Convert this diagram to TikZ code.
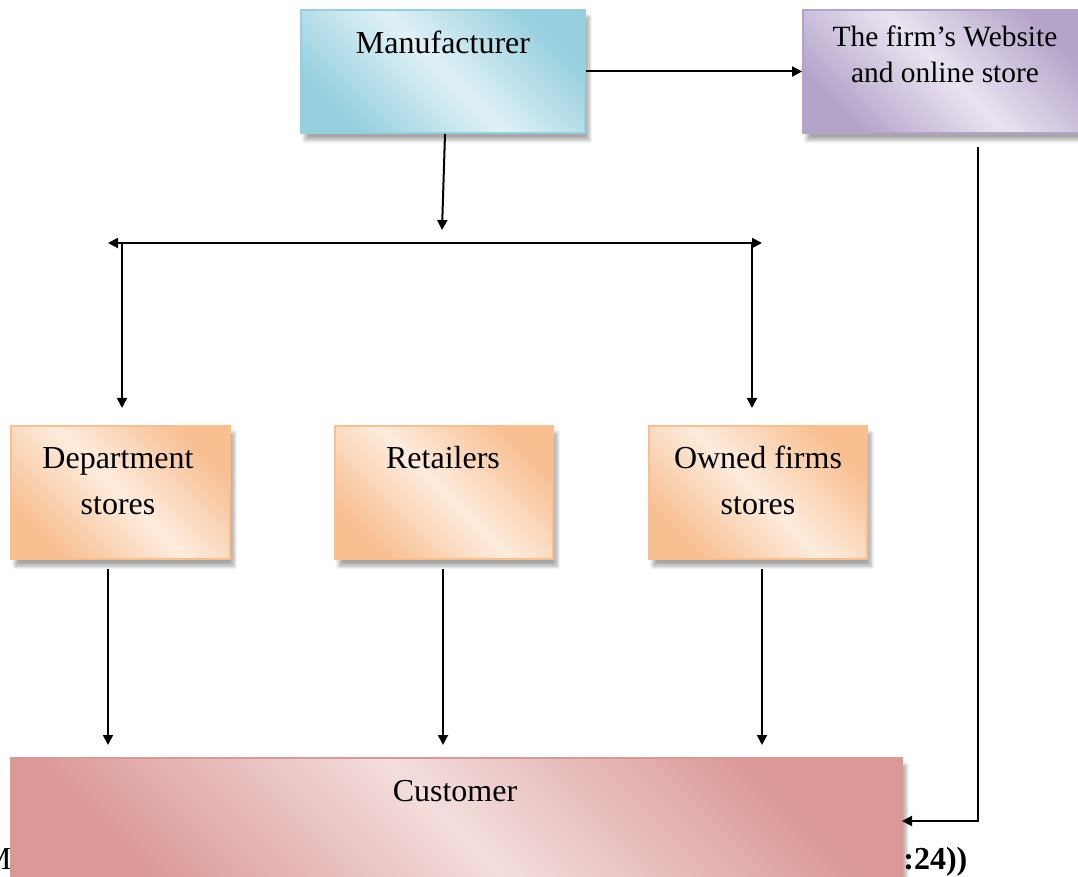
\documentclass[tikz,border=0pt]{standalone}
\usepackage{fontspec}
\setmainfont{Liberation Serif}
\usetikzlibrary{arrows.meta,shadows.blur}
\definecolor{blueD}{RGB}{150,207,222}
\definecolor{blueL}{RGB}{224,241,246}
\definecolor{purD}{RGB}{180,163,201}
\definecolor{purL}{RGB}{233,228,240}
\definecolor{orD}{RGB}{248,191,145}
\definecolor{orL}{RGB}{253,236,222}
\definecolor{redD}{RGB}{218,152,150}
\definecolor{redL}{RGB}{243,222,221}
\tikzset{
  box/.style 2 args={rectangle, draw=#1, line width=0.9pt, inner sep=0pt,
    left color=#1, right color=#1, middle color=#2, shading angle=135,
    blur shadow={shadow xshift=2pt, shadow yshift=-3.5pt, shadow blur steps=6, shadow opacity=35}},
  txt/.style={anchor=base, inner sep=0pt, font=\fontsize{16}{19}\selectfont},
  arr/.style={line width=1pt, -{Triangle[length=5pt,width=5pt]}},
  ln/.style={line width=1pt},
}
\begin{document}
\begin{tikzpicture}[x=0.5pt,y=-0.5pt]
\useasboundingbox (0,0) rectangle (1078,877);
% caption behind the customer box
\node[txt, anchor=base east] (capL) at (12,869) {M};
\node[txt, anchor=base west, font=\fontsize{16}{19}\selectfont\bfseries] (capR) at (903,869) {:24))};
% boxes
\node[box={blueD}{blueL}, minimum width=142pt, minimum height=61.5pt] (man) at (443,71.5) {};
\node[box={purD}{purL}, minimum width=142pt, minimum height=61.5pt] (web) at (945,71.5) {};
\node[box={orD}{orL}, minimum width=109.5pt, minimum height=66.5pt] (dept) at (120.5,492.5) {};
\node[box={orD}{orL}, minimum width=109pt, minimum height=66.5pt] (ret) at (444,492.5) {};
\node[box={orD}{orL}, minimum width=109pt, minimum height=66.5pt] (own) at (758,492.5) {};
\node[box={redD}{redL}, minimum width=445.5pt, minimum height=70pt] (cust) at (456.5,828) {};
% texts
\node[txt] (manT) at (443,54) {Manufacturer};
\node[txt, font=\fontsize{14.7}{17}\selectfont] (webA) at (945,47) {The firm’s Website};
\node[txt, font=\fontsize{14.7}{17}\selectfont] (webB) at (945,83) {and online store};
\node[txt] (deptA) at (118,469) {Department};
\node[txt] (deptB) at (118,515) {stores};
\node[txt] (retT) at (443,469) {Retailers};
\node[txt] (ownA) at (758,469) {Owned firms};
\node[txt] (ownB) at (758,515) {stores};
\node[txt] (custT) at (455,801) {Customer};
% coordinates
\coordinate (mtip) at (442,230);
\coordinate (hl) at (108,243);
\coordinate (hr) at (762,243);
\coordinate (vl0) at (122,243);
\coordinate (vl1) at (122,408);
\coordinate (vr0) at (752,243);
\coordinate (vr1) at (752,408);
\coordinate (d0) at (108,569);
\coordinate (d1) at (108,745);
\coordinate (r0) at (443,569);
\coordinate (r1) at (443,745);
\coordinate (o0) at (762,569);
\coordinate (o1) at (762,745);
\coordinate (w0) at (978,147);
\coordinate (w1) at (978,821);
\coordinate (ctip) at (902,821);
% connectors
\draw[arr] (man.east) -- (web.west);
\draw[arr] ([xshift=1]man.south) -- (mtip);
\draw[ln, {Triangle[length=5pt,width=5pt]}-{Triangle[length=5pt,width=5pt]}] (hl) -- (hr);
\draw[arr] (vl0) -- (vl1);
\draw[arr] (vr0) -- (vr1);
\draw[arr] (d0) -- (d1);
\draw[arr] (r0) -- (r1);
\draw[arr] (o0) -- (o1);
\draw[arr] (w0) -- (w1) -- (ctip);
\end{tikzpicture}
\end{document}
